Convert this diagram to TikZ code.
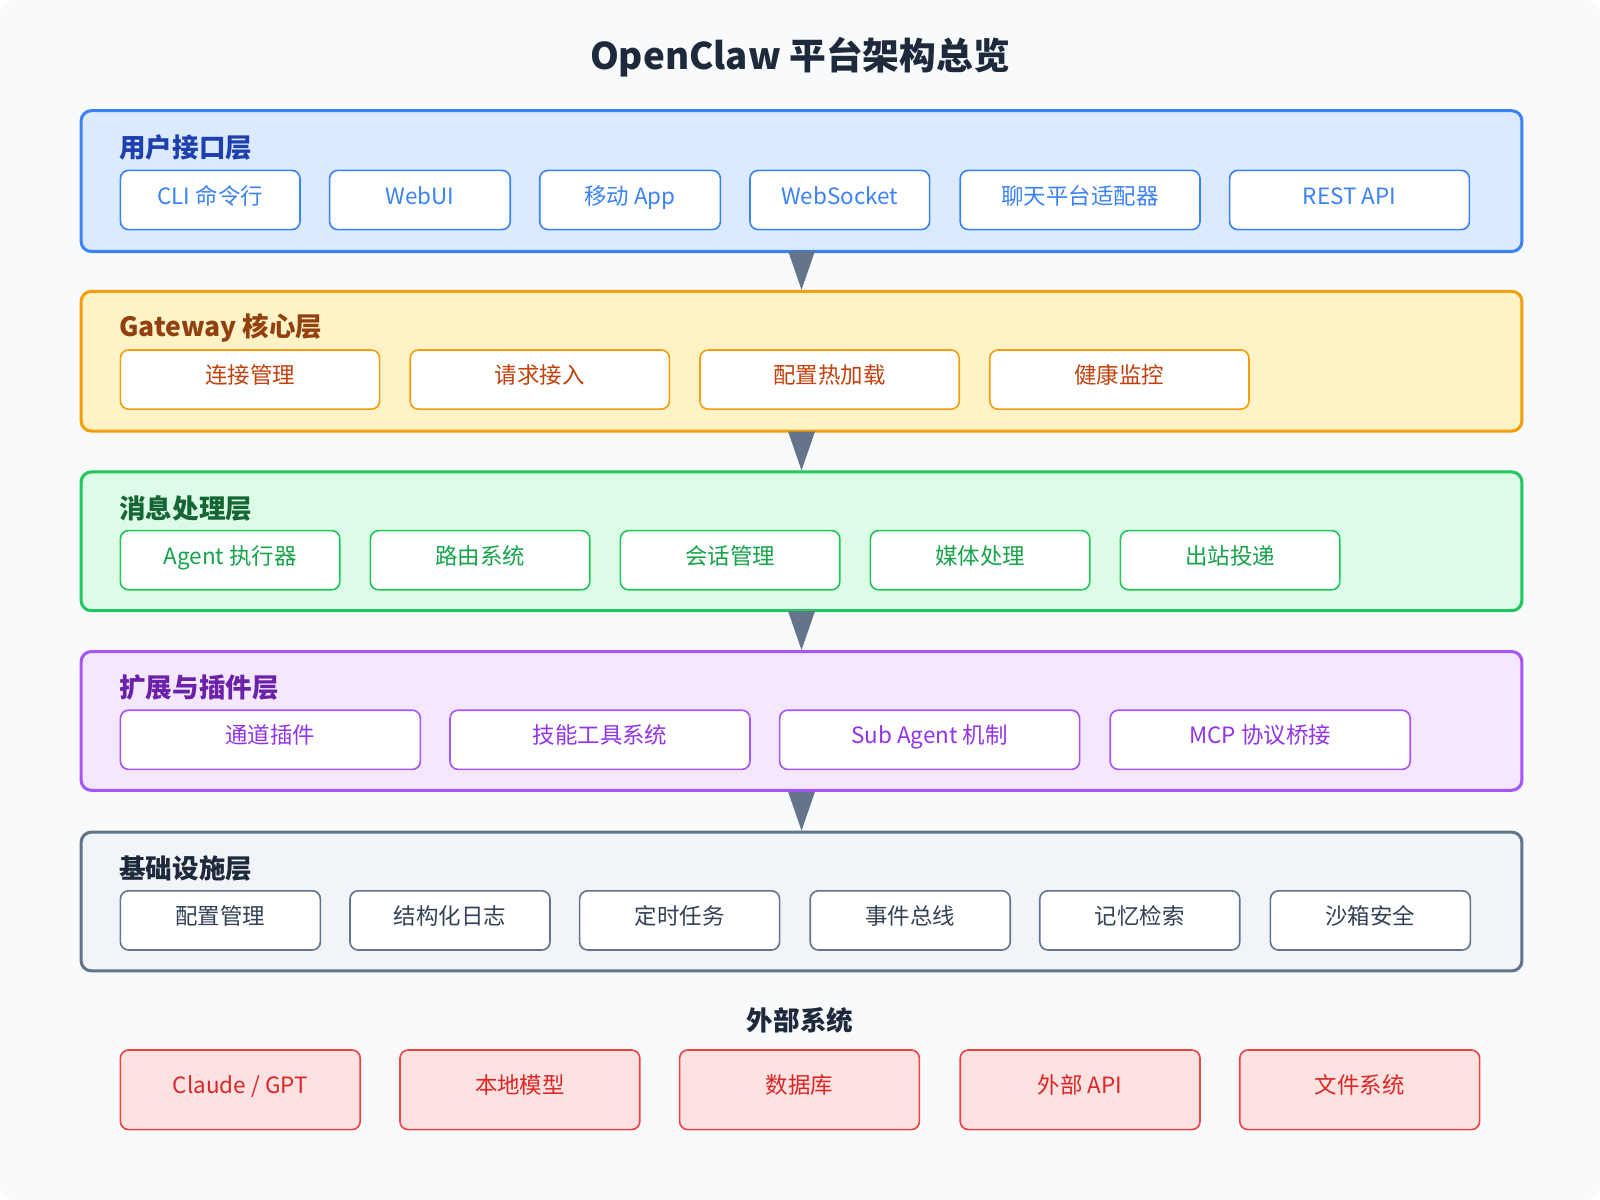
\documentclass[tikz,border=0pt]{standalone}
\usepackage{fontspec}
\setmainfont{Noto Sans CJK SC}
\usetikzlibrary{arrows.meta}
\definecolor{bluedk}{HTML}{1E40AF}\definecolor{bluemd}{HTML}{3B82F6}\definecolor{bluelt}{HTML}{DBEAFE}
\definecolor{orgdk}{HTML}{92400E}\definecolor{orgmd}{HTML}{F59E0B}\definecolor{orglt}{HTML}{FEF3C7}\definecolor{orgtx}{HTML}{C2410C}
\definecolor{grndk}{HTML}{166534}\definecolor{grnmd}{HTML}{22C55E}\definecolor{grnlt}{HTML}{DCFCE7}\definecolor{grntx}{HTML}{16A34A}
\definecolor{purdk}{HTML}{6B21A8}\definecolor{purmd}{HTML}{A855F7}\definecolor{purlt}{HTML}{F3E8FF}\definecolor{purtx}{HTML}{9333EA}
\definecolor{slatedk}{HTML}{1E293B}\definecolor{slatemd}{HTML}{64748B}\definecolor{slatelt}{HTML}{F1F5F9}\definecolor{slatetx}{HTML}{334155}
\definecolor{reddk}{HTML}{DC2626}\definecolor{redmd}{HTML}{EF4444}\definecolor{redlt}{HTML}{FEE2E2}
\definecolor{pagebg}{HTML}{F8FAFC}
\begin{document}
\begin{tikzpicture}
		[x=0.5pt,y=-0.5pt,
		layer/.style={draw=#1, line width=1.5pt, rounded corners=5pt, anchor=north west, inner sep=0pt},
		item/.style={draw=#1, fill=white, line width=0.8pt, rounded corners=4pt, font=\fontsize{11}{13}\selectfont, inner sep=0pt, text height=7.5pt, text depth=3.5pt},
		ltitle/.style={anchor=west, font=\bfseries\fontsize{13}{15}\selectfont},
		flow/.style={draw=slatemd, line width=0.5pt, -{Triangle[length=19pt,width=13pt]}, shorten <=-1pt},
		]
		
		%Background
		\fill[pagebg, rounded corners=8pt] (0,0) rectangle (1568,1176);
		\useasboundingbox (0,0) rectangle (1568,1176);
		\node[font=\bfseries\fontsize{18}{22}\selectfont, text=slatedk] (title) at (784,56) {OpenClaw 平台架构总览};
		
		%Layers
		\node[layer=bluemd, fill=bluelt, minimum width=706pt, minimum height=69pt] (ui) at (78,107) {};
		\node[layer=orgmd, fill=orglt, minimum width=706pt, minimum height=68.5pt] (gw) at (78,284) {};
		\node[layer=grnmd, fill=grnlt, minimum width=706pt, minimum height=68pt] (msg) at (78,461) {};
		\node[layer=purmd, fill=purlt, minimum width=706pt, minimum height=68pt] (ext) at (78,637) {};
		\node[layer=slatemd, fill=slatelt, minimum width=706pt, minimum height=68pt] (infra) at (78,814) {};
		
		\node[ltitle, text=bluedk] (uititle) at (110,145) {用户接口层};
		\node[ltitle, text=orgdk] (gwtitle) at (110,321) {Gateway 核心层};
		\node[ltitle, text=grndk] (msgtitle) at (110,498) {消息处理层};
		\node[ltitle, text=purdk] (exttitle) at (110,674) {扩展与插件层};
		\node[ltitle, text=slatedk] (infratitle) at (110,851) {基础设施层};
		
		%Items
		\foreach \x/\w/\t [count=\i] in {118/176/CLI 命令行, 323/177/WebUI, 529/177/移动 App, 735/176/WebSocket, 941/235/聊天平台适配器, 1205/235/REST API}
			\node[item=bluemd, text=bluemd, minimum width=\w*0.5pt, minimum height=29pt] (ui\i) at (\x+\w/2,196) {\t};
		\foreach \x/\t [count=\i] in {118/连接管理, 402/请求接入, 686/配置热加载, 970/健康监控}
			\node[item=orgmd, text=orgtx, minimum width=127pt, minimum height=29pt] (gw\i) at (\x+127,372) {\t};
		\foreach \x/\t [count=\i] in {118/Agent 执行器, 363/路由系统, 608/会话管理, 853/媒体处理, 1098/出站投递}
			\node[item=grnmd, text=grntx, minimum width=107.5pt, minimum height=29pt] (msg\i) at (\x+107.5,549) {\t};
		\foreach \x/\t [count=\i] in {118/通道插件, 441/技能工具系统, 764/Sub Agent 机制, 1088/MCP 协议桥接}
			\node[item=purmd, text=purtx, minimum width=147pt, minimum height=29pt] (ext\i) at (\x+147,725) {\t};
		\foreach \x/\t [count=\i] in {118/配置管理, 343/结构化日志, 568/定时任务, 794/事件总线, 1019/记忆检索, 1245/沙箱安全}
			\node[item=slatemd, text=slatetx, minimum width=98pt, minimum height=29pt] (infra\i) at (\x+98,902) {\t};
		
		%External systems
		\node[font=\bfseries\fontsize{13}{15}\selectfont, text=slatedk] (outtitle) at (784,1000) {外部系统};
		\foreach \x/\t [count=\i] in {118/{Claude / GPT}, 392/本地模型, 666/数据库, 941/外部 API, 1215/文件系统}
			\node[item=redmd, fill=redlt, text=reddk, minimum width=117.5pt, minimum height=39pt] (out\i) at (\x+117.5,1068) {\t};
		
		%Arrows
		\draw[flow] (ui.south) -- (gw.north);
		\draw[flow] (gw.south) -- (msg.north);
		\draw[flow] (msg.south) -- (ext.north);
		\draw[flow] (ext.south) -- (infra.north);
\end{tikzpicture}
\end{document}
